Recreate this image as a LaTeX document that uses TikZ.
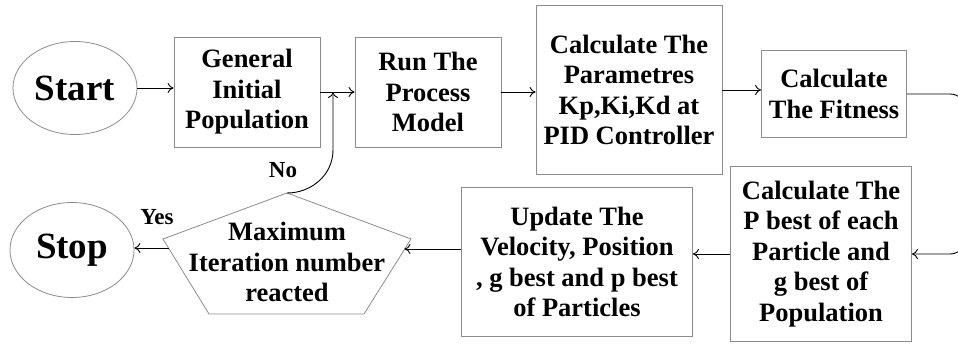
\documentclass[tikz,border=0pt]{standalone}
\usepackage{fontspec}
\setmainfont{Liberation Serif}
\usepackage{tikz}
\usetikzlibrary{arrows.meta,positioning,shapes.geometric}

\begin{document}
\begin{tikzpicture}[
  x=1pt, y=-1pt,
  font=\fontsize{26.5}{30.5}\selectfont\bfseries,
  % boxes keep the thin grey outline of the scanned chart
  stepbox/.style={draw=black!45, line width=0.8pt, align=center, inner sep=0pt},
  terminal/.style={draw=black!45, line width=0.8pt, ellipse, inner sep=0pt,
    minimum width=124pt, font=\fontsize{37}{40}\selectfont\bfseries},
  flow/.style={-{To[length=6pt,width=10pt]}, line width=0.9pt},
  answer/.style={font=\fontsize{23}{26}\selectfont\bfseries}
]
\useasboundingbox (0,0) rectangle (958,345);
\node[terminal, minimum height=93pt] (start) at (75,88) {Start};
\node[stepbox, minimum width=146pt, minimum height=110pt] (gen) at (247,92)
  {General\\Initial\\Population};
\node[stepbox, minimum width=146pt, minimum height=110pt] (run) at (428,92)
  {Run The\\Process\\Model};
\node[stepbox, minimum width=186pt, minimum height=169pt] (calc) at (629,90)
  {Calculate The\\Parametres\\Kp,Ki,Kd at\\PID Controller};
\node[stepbox, minimum width=145pt, minimum height=87pt] (fit) at (834,94)
  {Calculate\\The Fitness};
\node[stepbox, minimum width=181pt, minimum height=175pt] (pbest) at (821,254)
  {Calculate The\\P best of each\\Particle and\\g best of\\Population};
\node[stepbox, minimum width=231pt, minimum height=149pt] (upd) at (577,262)
  {Update The\\Velocity, Position\\, g best and p best\\of Particles};
% the decision pentagon is wider than a regular one, so it is drawn by its corners
\draw[draw=black!45, line width=0.8pt] (287,193) coordinate (mtop) -- (411,239)
  -- (364,314) -- (209,314) -- (163,239) -- cycle;
\node[align=center] (maxit) at (287,262) {Maximum\\Iteration number\\reacted};
\node[terminal, minimum height=95pt] (stop) at (72,250) {Stop};
\node[answer] (no) at (283,170) {No};
\node[answer] (yes) at (157,217) {Yes};
\coordinate (join) at (333,92);
\coordinate (nobend) at (333,150);
\coordinate (mtip) at (404.5,249);
\coordinate (mout) at (168.5,248);
\coordinate (bend) at (966,0);
\draw[flow] (start.east) -- (start.east -| gen.west);
\draw[flow] (gen.east) -- (run.west);
\draw[flow] (run.east) -- (run.east -| calc.west);
\draw[flow] (calc.east) -- (calc.east -| fit.west);
\draw[flow, rounded corners=16pt] (fit.east) -- (fit.east -| bend)
  -- (pbest.east -| bend) -- (pbest.east);
\draw[flow] (pbest.west) -- (pbest.west -| upd.east);
\draw[flow] (upd.west |- mtip) -- (mtip);
\draw[flow] (mout) -- (mout -| stop.east);
\draw[flow] (mtop) to[out=0, in=-90] (nobend) -- (join);
\end{tikzpicture}
\end{document}
